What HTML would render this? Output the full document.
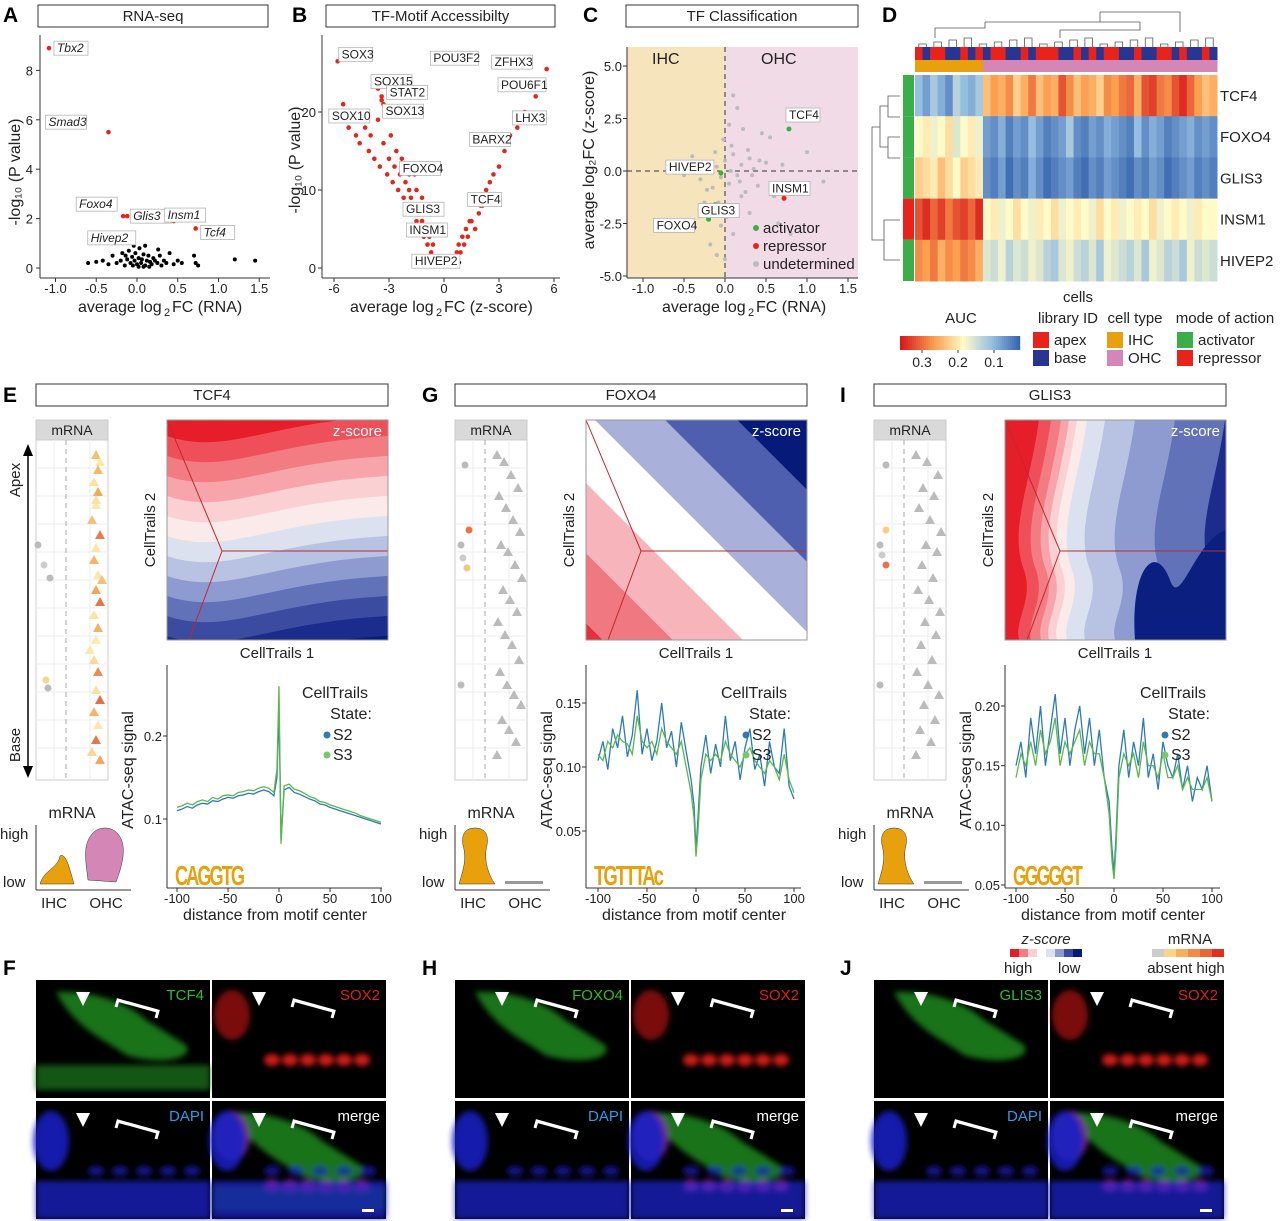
<!DOCTYPE html>
<html><head><meta charset="utf-8">
<style>
html,body{margin:0;padding:0;background:#fff;}
svg{display:block;font-family:"Liberation Sans",sans-serif;}
</style></head>
<body>
<svg id="fig" width="1280" height="1221" viewBox="0 0 1280 1221" xmlns="http://www.w3.org/2000/svg">
<defs>
<filter id="blur"><feGaussianBlur stdDeviation="3"/></filter>
<clipPath id="cE"><rect x="167" y="420" width="221" height="220"/></clipPath>
<clipPath id="cG"><rect x="586" y="420" width="221" height="220"/></clipPath>
<clipPath id="cI"><rect x="1005" y="420" width="221" height="220"/></clipPath>
</defs>
</svg>
<script>
// ---------------- DATA ----------------
const aNamed = ["Tbx2","Smad3","Foxo4","Glis3","Insm1","Tcf4","Hivep2"];
const aNamedX = [-1.08,-0.35,-0.17,-0.12,0.45,0.72,-0.15];
const aNamedY = [8.9,5.5,2.1,2.1,1.9,1.6,1.3];
const aBlackX = [-0.5,-0.42,-0.35,-0.3,-0.25,-0.2,-0.18,-0.15,-0.12,-0.1,-0.08,-0.06,-0.05,-0.03,-0.02,0,0.02,0.03,0.05,0.06,0.08,0.1,0.12,0.14,0.16,0.18,0.2,0.22,0.25,0.28,0.3,0.33,0.36,0.4,0.45,0.5,0.55,0.7,0.72,0.75,1.2,1.45,-0.6,0.08,0.15,-0.04,0.26,0.1,0.02,-0.14];
const aBlackY = [0.25,0.3,0.15,0.5,0.2,0.3,0.6,0.1,0.35,0.7,0.2,0.45,0.1,0.3,0.6,0.15,0.4,0.8,0.2,0.35,0.55,0.1,0.3,0.5,0.25,0.15,0.4,0.3,0.2,0.5,0.1,0.3,0.2,0.6,0.15,0.3,0.2,0.5,0.2,0.1,0.35,0.3,0.2,0.05,0.05,0.9,0.75,0.9,0.05,0.5];
const bNamed = ["SOX3","SOX15","STAT2","SOX10","SOX13","POU3F2","ZFHX3","POU6F1","LHX3","BARX2","FOXO4","GLIS3","TCF4","INSM1","HIVEP2"];
const bNamedX = [-5.8,-3.6,-3.4,-5.9,-3.3,2.8,5.6,5.4,4.0,3.4,-1.6,-1.2,2.0,-0.8,-0.5];
const bNamedY = [26.5,23,21.5,20,21,26,25.5,24,19.5,17,12,6,8,5,1];
const bRedX = [-5.5,-5.2,-5,-4.8,-4.6,-4.5,-4.3,-4.1,-4,-3.8,-3.6,-3.5,-3.3,-3.1,-3,-2.8,-2.7,-2.5,-2.4,-2.2,-2.1,-2,-1.9,-1.8,-1.7,-1.6,-1.5,-1.4,-1.3,-1.2,-1.1,-1,-0.9,-0.8,-0.7,-0.6,-0.5,-0.3,0.3,0.5,0.7,0.8,0.9,1,1.1,1.2,1.3,1.5,1.7,1.9,2.1,2.3,2.5,2.7,3,3.3,3.6,4,4.4,5,-2.6,-2.3,-1.9,-1.5,-1.2,0.6,1.4,2.2,-3.4,-2.9];
const bRedY = [21,18,19,17,16,20,18,15,17,14,19,13,16,12,14,11,13,10,12,9,11,8,10,9,7,8,6,7,5,6,4,5,3,4,2,3,1,0.5,0.5,1,2,3,2,4,3,5,4,6,5,7,8,10,11,12,13,15,17,18,20,22,15,14,12,10,9,1.5,6,9,22,17];
const cGreyX = [-0.1,-0.05,0,0.05,0.1,0.15,-0.15,0.2,-0.2,0.25,0.3,-0.08,0.08,0.12,-0.12,0.02,-0.02,0.18,0.35,0.4,-0.3,0.5,0.6,-0.4,0.45,0.05,-0.05,0.1,0.22,-0.25,0.7,0.9,1.2,0.3,0.15,-0.18,0.28,0.55,0.65,-0.5,1.0,0.8,0.0,0.1,-0.1,0.2,0.33,0.42,-0.22,0.07];
const cGreyY = [0.2,-0.3,0.5,-0.6,0.8,-0.2,-0.8,0.3,0.1,-1.0,0.6,-1.5,1.2,-1.8,0.9,-2.2,1.5,-0.5,0.1,-0.7,-0.4,0.4,-1.2,0.7,1.8,2.2,-2.6,-3,2.0,-1.5,0.3,-1.0,-0.5,-2.0,3.0,-3.5,1.0,1.6,-2.5,-0.2,0.9,-3.0,-4.2,3.6,-4.0,-1.2,-0.2,0.5,-0.9,0.0];
const cGreen = [["TCF4",0.78,2.0],["HIVEP2",-0.05,-0.1],["FOXO4",-0.2,-2.3],["GLIS3",-0.12,-1.6]];
const cRed = [["INSM1",0.72,-1.3]];
const hmRows = ["TCF4","FOXO4","GLIS3","INSM1","HIVEP2"];
const hmTCF4 = [0.14,0.12,0.15,0.13,0.11,0.16,0.14,0.13,0.15,0.24,0.26,0.25,0.27,0.23,0.25,0.28,0.24,0.26,0.25,0.30,0.27,0.24,0.26,0.25,0.23,0.27,0.26,0.28,0.29,0.25,0.30,0.31,0.28,0.27,0.30,0.32,0.29,0.26,0.24,0.25];
const hmFOXO4 = [0.20,0.21,0.19,0.20,0.22,0.18,0.20,0.21,0.19,0.12,0.11,0.13,0.10,0.12,0.11,0.14,0.12,0.10,0.11,0.12,0.15,0.11,0.10,0.12,0.11,0.13,0.12,0.11,0.10,0.14,0.11,0.13,0.12,0.10,0.11,0.12,0.13,0.11,0.12,0.11];
const hmGLIS3 = [0.23,0.22,0.21,0.24,0.22,0.20,0.23,0.22,0.21,0.11,0.10,0.12,0.09,0.11,0.10,0.13,0.11,0.09,0.10,0.11,0.12,0.10,0.09,0.11,0.10,0.12,0.11,0.10,0.09,0.11,0.10,0.12,0.11,0.09,0.10,0.11,0.12,0.10,0.11,0.10];
const hmINSM1 = [0.30,0.32,0.29,0.31,0.28,0.30,0.31,0.29,0.32,0.20,0.21,0.19,0.20,0.22,0.20,0.19,0.21,0.20,0.22,0.19,0.20,0.21,0.20,0.19,0.22,0.20,0.21,0.19,0.20,0.21,0.20,0.22,0.19,0.20,0.21,0.20,0.19,0.21,0.20,0.20];
const hmHIVEP2 = [0.27,0.26,0.28,0.25,0.27,0.26,0.28,0.27,0.25,0.18,0.17,0.19,0.16,0.18,0.17,0.19,0.18,0.16,0.15,0.18,0.19,0.17,0.16,0.18,0.15,0.19,0.18,0.17,0.16,0.18,0.15,0.19,0.18,0.16,0.17,0.15,0.19,0.17,0.18,0.17];
const hmLib = "abaabbababaabbabaaabbababaabbabbaababbab".split("");
const hmType = "iiiiiiiiiooooooooooooooooooooooooooooooo".split("");
const hmMode = ["act","act","act","rep","act"];
const atacDist = [-100,-95,-90,-85,-80,-75,-70,-65,-60,-55,-50,-45,-40,-35,-30,-25,-20,-15,-10,-5,-2,0,2,5,10,15,20,25,30,35,40,45,50,55,60,65,70,75,80,85,90,95,100];
const tcf4S2 = [0.110,0.112,0.115,0.113,0.117,0.119,0.118,0.122,0.121,0.124,0.126,0.125,0.128,0.129,0.131,0.130,0.133,0.135,0.133,0.128,0.15,0.23,0.075,0.135,0.138,0.132,0.130,0.127,0.124,0.122,0.118,0.117,0.114,0.112,0.110,0.108,0.106,0.104,0.102,0.100,0.098,0.096,0.094];
const tcf4S3 = [0.114,0.116,0.119,0.117,0.121,0.123,0.121,0.126,0.124,0.128,0.129,0.128,0.132,0.133,0.135,0.134,0.137,0.139,0.137,0.132,0.16,0.26,0.07,0.14,0.142,0.136,0.134,0.131,0.127,0.125,0.121,0.120,0.117,0.115,0.113,0.111,0.109,0.107,0.104,0.102,0.100,0.098,0.096];
const foxoS2 = [0.105,0.12,0.098,0.13,0.115,0.14,0.108,0.125,0.16,0.11,0.13,0.105,0.12,0.15,0.115,0.128,0.10,0.135,0.112,0.09,0.07,0.035,0.06,0.10,0.125,0.095,0.118,0.10,0.14,0.105,0.12,0.09,0.115,0.13,0.098,0.11,0.085,0.12,0.10,0.095,0.13,0.085,0.075];
const foxoS3 = [0.11,0.105,0.12,0.115,0.125,0.12,0.118,0.11,0.14,0.12,0.115,0.12,0.11,0.13,0.12,0.115,0.11,0.12,0.1,0.08,0.06,0.03,0.05,0.09,0.11,0.105,0.11,0.105,0.12,0.11,0.105,0.1,0.11,0.115,0.105,0.1,0.095,0.105,0.1,0.09,0.11,0.09,0.08];
const glisS2 = [0.15,0.17,0.14,0.19,0.16,0.20,0.15,0.18,0.21,0.16,0.19,0.15,0.18,0.20,0.16,0.19,0.15,0.18,0.14,0.12,0.08,0.06,0.09,0.15,0.18,0.14,0.17,0.15,0.19,0.14,0.16,0.13,0.17,0.15,0.14,0.16,0.13,0.15,0.12,0.14,0.13,0.15,0.12];
const glisS3 = [0.14,0.16,0.15,0.17,0.15,0.18,0.16,0.17,0.19,0.15,0.17,0.16,0.17,0.18,0.15,0.17,0.16,0.16,0.14,0.11,0.07,0.055,0.08,0.14,0.16,0.15,0.16,0.14,0.17,0.15,0.15,0.14,0.16,0.14,0.14,0.15,0.13,0.14,0.13,0.13,0.13,0.14,0.12];

// ---------------- HELPERS ----------------
const svg = document.getElementById('fig');
const NS = "http://www.w3.org/2000/svg";
function mk(tag, attrs, parent){const e=document.createElementNS(NS,tag);for(const k in attrs)e.setAttribute(k,attrs[k]);(parent||svg).appendChild(e);return e;}
function txt(s,x,y,o,parent){o=o||{};const e=mk('text',Object.assign({x:x,y:y,'font-size':o.fs||13,fill:o.fill||'#222','text-anchor':o.a||'start'},o.attr||{}),parent);e.textContent=s;return e;}
function lin(d0,d1,p0,p1){return v=>p0+(v-d0)/(d1-d0)*(p1-p0);}

[["A",3,22],["B",292,22],["C",583,22],["D",882,22],["E",3,402],["G",422,402],["I",840,402],["F",3,975],["H",422,975],["J",840,975]].forEach(p=>{
  const t=txt(p[0],p[1],p[2],{fs:21,fill:'#000',attr:{'font-weight':'bold'}});
  
  
});
function titleBox(s,x,y,w){
  const g=mk('g',{});
  
  
  mk('rect',{x:x,y:y,width:w,height:22,fill:'#fff',stroke:'#333','stroke-width':1},g);
  txt(s,x+w/2,y+16,{fs:15,a:'middle'},g);
}
titleBox("RNA-seq",38,5,230);titleBox("TF-Motif Accessibilty",326,5,229);titleBox("TF Classification",626,5,232);
titleBox("TCF4",36,384,352);titleBox("FOXO4",455,384,352);titleBox("GLIS3",874,384,352);

function labelBox(s,x,y,g,ital){
  const w=s.length*7+6;
  mk('rect',{x:x-3,y:y-11,width:w,height:14,fill:'#fff',stroke:'#aaa','stroke-width':0.7},g);
  txt(s,x,y,{fs:12,attr:ital?{'font-style':'italic'}:{}},g);
}

// ---------------- PANEL A ----------------
(function(){
  const g=mk('g',{});
  const X=lin(0,1,137,218.5),Y=lin(0,1,268,243.3);
  mk('line',{x1:40,y1:35,x2:40,y2:278,stroke:'#333'},g);
  mk('line',{x1:40,y1:278,x2:270,y2:278,stroke:'#333'},g);
  [-1,-0.5,0,0.5,1,1.5].forEach(v=>{mk('line',{x1:X(v),y1:278,x2:X(v),y2:282,stroke:'#333'},g);txt(v.toFixed(1),X(v),293,{a:'middle'},g);});
  [0,2,4,6,8].forEach(v=>{mk('line',{x1:36,y1:Y(v),x2:40,y2:Y(v),stroke:'#333'},g);txt(String(v),33,Y(v)+5,{a:'end'},g);});
  txt("average log",78,312,{fs:16},g);txt("2",164,316,{fs:11},g);txt("FC (RNA)",172,312,{fs:16},g);
  txt("-log\u2081\u2080 (P value)",0,0,{fs:16,a:'middle',attr:{transform:'translate(20,172) rotate(-90)'}},g);
  aBlackX.forEach((v,i)=>{const c=mk('circle',{cx:X(v),cy:Y(aBlackY[i]),r:2,fill:'#000'},g);});
  const offs=[[8,4],[-60,-6],[-44,-8],[6,4],[-6,-2],[8,8],[-34,6]];
  aNamed.forEach((n,i)=>{
    const c=mk('circle',{cx:X(aNamedX[i]),cy:Y(aNamedY[i]),r:2.3,fill:'#e8231c'},g);
    
    labelBox(n,X(aNamedX[i])+offs[i][0],Y(aNamedY[i])+offs[i][1],g,true);
  });
})();

// ---------------- PANEL B ----------------
(function(){
  const g=mk('g',{});
  const X=lin(0,3,444,499),Y=lin(0,10,268,190);
  mk('line',{x1:322,y1:35,x2:322,y2:278,stroke:'#333'},g);
  mk('line',{x1:322,y1:278,x2:560,y2:278,stroke:'#333'},g);
  [-6,-3,0,3,6].forEach(v=>{mk('line',{x1:X(v),y1:278,x2:X(v),y2:282,stroke:'#333'},g);txt(String(v),X(v),293,{a:'middle'},g);});
  [0,10,20].forEach(v=>{mk('line',{x1:318,y1:Y(v),x2:322,y2:Y(v),stroke:'#333'},g);txt(String(v),316,Y(v)+5,{a:'end'},g);});
  txt("average log",350,312,{fs:16},g);txt("2",436,316,{fs:11},g);txt("FC (z-score)",444,312,{fs:16},g);
  txt("-log\u2081\u2080 (P value)",0,0,{fs:16,a:'middle',attr:{transform:'translate(300,160) rotate(-90)'}},g);
  for(let k=0;k<30;k++){mk('circle',{cx:X(-0.9+k*0.06),cy:Y(0.3+(k%3)*0.2),r:1.8,fill:'#000'},g);}
  bRedX.forEach((v,i)=>{const c=mk('circle',{cx:X(v),cy:Y(bRedY[i]),r:2.3,fill:'#e8231c'},g);});
  const offs=[[4,-3],[-4,-3],[8,-4],[-4,8],[2,11],[-62,-3],[-52,-3],[-42,8],[-2,6],[-34,8],[-12,-2],[-16,-8],[-10,-2],[-20,5],[-20,5]];
  bNamed.forEach((n,i)=>{
    const c=mk('circle',{cx:X(bNamedX[i]),cy:Y(bNamedY[i]),r:2.3,fill:'#e8231c'},g);
    
    labelBox(n,X(bNamedX[i])+offs[i][0],Y(bNamedY[i])+offs[i][1],g,false);
  });
})();

// ---------------- PANEL C ----------------
(function(){
  const g=mk('g',{});
  const X=lin(0,0.5,725,766),Y=lin(0,2.5,171,118.5);
  mk('rect',{x:627,y:47,width:98,height:231,fill:'#f6e4bd'},g);
  mk('rect',{x:725,y:47,width:133,height:231,fill:'#f1dbe7'},g);
  txt("IHC",652,64,{fs:16},g);txt("OHC",761,64,{fs:16},g);
  mk('line',{x1:X(0),y1:47,x2:X(0),y2:278,stroke:'#333','stroke-dasharray':'5,4'},g);
  mk('line',{x1:627,y1:Y(0),x2:858,y2:Y(0),stroke:'#333','stroke-dasharray':'5,4'},g);
  mk('line',{x1:627,y1:47,x2:627,y2:278,stroke:'#333'},g);
  mk('line',{x1:627,y1:278,x2:858,y2:278,stroke:'#333'},g);
  [-1,-0.5,0,0.5,1,1.5].forEach(v=>{mk('line',{x1:X(v),y1:278,x2:X(v),y2:282,stroke:'#333'},g);txt(v.toFixed(1),X(v),293,{a:'middle'},g);});
  [5,2.5,0,-2.5,-5].forEach(v=>{mk('line',{x1:623,y1:Y(v),x2:627,y2:Y(v),stroke:'#333'},g);txt(v.toFixed(1),622,Y(v)+5,{a:'end'},g);});
  txt("average log",662,312,{fs:16},g);txt("2",748,316,{fs:11},g);txt("FC (RNA)",756,312,{fs:16},g);
  txt("average log\u2082FC (z-score)",0,0,{fs:16,a:'middle',attr:{transform:'translate(594,160) rotate(-90)'}},g);
  cGreyX.forEach((v,i)=>{const c=mk('circle',{cx:X(v),cy:Y(cGreyY[i]),r:2,fill:'#bbb'},g);});
  const go=[[0,-10],[-52,-2],[-52,10],[-14,10]];
  cGreen.forEach((d,i)=>{const c=mk('circle',{cx:X(d[1]),cy:Y(d[2]),r:2.5,fill:'#3cae49'},g);labelBox(d[0],X(d[1])+go[i][0],Y(d[2])+go[i][1],g,false);});
  cRed.forEach(d=>{const c=mk('circle',{cx:X(d[1]),cy:Y(d[2]),r:2.5,fill:'#e8231c'},g);labelBox(d[0],X(d[1])-12,Y(d[2])-6,g,false);});
  [["activator","#3cae49",233],["repressor","#e8231c",251],["undetermined","#bbb",269]].forEach(l=>{
    const lg=mk('g',{},g);
    mk('circle',{cx:756,cy:l[2]-5,r:3,fill:l[1]},lg);txt(l[0],763,l[2],{fs:15},lg);
  });
})();

// ---------------- PANEL D ----------------
(function(){
  const g=mk('g',{});
  const stops=[[0.08,[49,95,170]],[0.14,[150,190,225]],[0.20,[255,251,200]],[0.26,[250,160,80]],[0.33,[215,25,28]]];
  function col(v){if(v<=stops[0][0])return 'rgb('+stops[0][1]+')';for(let i=1;i<stops.length;i++){if(v<=stops[i][0]){const t=(v-stops[i-1][0])/(stops[i][0]-stops[i-1][0]);const a=stops[i-1][1],b=stops[i][1];return 'rgb('+a.map((c,j)=>Math.round(c+(b[j]-c)*t)).join(',')+')';}}return 'rgb('+stops[stops.length-1][1]+')';}
  const rows=[hmTCF4,hmFOXO4,hmGLIS3,hmINSM1,hmHIVEP2];
  const x0=915,w=302,y0=75,rh=41.2,cw=w/40;
  rows.forEach((r,ri)=>{r.forEach((v,ci)=>{const c=mk('rect',{x:x0+ci*cw,y:y0+ri*rh,width:cw+0.5,height:rh+0.5,fill:col(v)},g);});
    txt(hmRows[ri],1220,y0+ri*rh+26,{fs:15},g);
    const m=mk('rect',{x:903,y:y0+ri*rh,width:11,height:rh,fill:hmMode[ri]==='act'?'#3cae49':'#e8231c'},g);
  });
  hmLib.forEach((l,ci)=>{const c=mk('rect',{x:x0+ci*cw,y:47,width:cw+0.5,height:13,fill:l==='a'?'#e8231c':'#283593'},g);});
  hmType.forEach((l,ci)=>{const c=mk('rect',{x:x0+ci*cw,y:60,width:cw+0.5,height:12,fill:l==='i'?'#e8a10c':'#d487b7'},g);});
  let p="";for(let i=0;i<20;i++){const xa=x0+i*2*cw+cw/2,xb=xa+cw,h=44-(i%4)*2;p+=`M${xa},47V${h}H${xb}V47 `;}
  p+="M935,38V28H985V22 M1060,38V30H1140V22 M985,22H1100V12 M1140,22H1100 M1100,12H1180V32";
  mk('path',{d:p,fill:'none',stroke:'#555','stroke-width':0.8},g);
  mk('path',{d:"M900,96H888V117H900 M900,158H888V137H900 M888,106H880V147H888 M900,220H884V260H900 M880,127H872V240H884",fill:'none',stroke:'#555','stroke-width':0.8},g);
  const lg=mk('g',{},g);
  txt("AUC",961,323,{fs:15,a:'middle'},lg);
  for(let i=0;i<60;i++){const v=0.33-i*(0.25/60);mk('rect',{x:900+i*2,y:336,width:2.2,height:14,fill:col(v)},lg);}
  [["0.3",922],["0.2",958],["0.1",994]].forEach(t=>{mk('line',{x1:t[1],y1:350,x2:t[1],y2:353,stroke:'#333'},lg);txt(t[0],t[1],367,{fs:14,a:'middle'},lg);});
  txt("cells",1078,302,{fs:15,a:'middle'},lg);
  txt("library ID",1068,323,{fs:15,a:'middle'},lg);txt("cell type",1135,323,{fs:15,a:'middle'},lg);txt("mode of action",1225,323,{fs:15,a:'middle'},lg);
  [[1033,332,'#e8231c','apex'],[1033,350,'#283593','base'],[1107,332,'#e8a10c','IHC'],[1107,350,'#d487b7','OHC'],[1177,332,'#3cae49','activator'],[1177,350,'#e8231c','repressor']].forEach(l=>{mk('rect',{x:l[0],y:l[1],width:16,height:16,fill:l[2]},lg);txt(l[3],l[0]+21,l[1]+13,{fs:15},lg);});
})();

// ---------------- E/G/I panels ----------------
const strips={
 E:{x:36,tri:[[60,455,'#f4c06a'],[64,462,'#fce7a8'],[62,470,'#f7b868'],[58,482,'#fbe3a0'],[62,492,'#f4a858'],[60,505,'#fce9b0'],[56,520,'#f7c080'],[64,535,'#e87e4e'],[60,548,'#fde6a5'],[58,560,'#f6b36a'],[62,575,'#fce8ad'],[60,590,'#f4a25c'],[64,602,'#e8744a'],[58,615,'#fce4a3'],[62,628,'#f5b062'],[60,640,'#fde9b1'],[58,660,'#fbd898'],[62,672,'#ec8b53'],[60,690,'#fce1a0'],[64,700,'#e56e46'],[58,712,'#f6b46a'],[62,725,'#fce8ae'],[60,740,'#e8764b'],[56,752,'#fbd795'],[64,760,'#f4a65e'],[60,500,'#fbe1a0'],[66,580,'#f7bf78'],[54,650,'#fce8ad']],dots:[[2,545,'#bbb'],[8,565,'#ccc'],[14,578,'#bbb'],[10,680,'#f7d58a'],[12,688,'#bbb']]},
 G:{x:455,tri:[],dots:[[10,465,'#bbb'],[14,530,'#e8734a'],[6,545,'#bbb'],[12,568,'#f3c87a'],[8,558,'#ccc'],[6,685,'#bbb']]},
 I:{x:874,tri:[],dots:[[12,465,'#bbb'],[12,530,'#f7cf88'],[6,545,'#bbb'],[12,565,'#e8734a'],[8,555,'#ccc'],[6,685,'#bbb']]}
};
const greyTriY=[455,462,475,488,496,508,520,532,545,552,565,578,590,600,612,622,635,645,660,672,685,695,705,720,730,742,755];
strips.G.tri=greyTriY.map((y,i)=>[42+(i*7)%26,y,'#bbb']);
strips.I.tri=greyTriY.map((y,i)=>[42+(i*11)%26,y,'#bbb']);

function buildStrip(k,info){
  const g=mk('g',{});
  const x=info.x;
  mk('rect',{x:x,y:420,width:72,height:360,fill:'#fff',stroke:'#ccc'},g);
  mk('rect',{x:x,y:420,width:72,height:20,fill:'#d9d9d9',stroke:'#ccc'},g);
  txt("mRNA",x+36,435,{fs:14,a:'middle'},g);
  for(let i=1;i<12;i++)mk('line',{x1:x,y1:440+i*28,x2:x+72,y2:440+i*28,stroke:'#eee'},g);
  [x+18,x+54].forEach(xx=>mk('line',{x1:xx,y1:440,x2:xx,y2:780,stroke:'#eee'},g));
  mk('line',{x1:x+30,y1:440,x2:x+30,y2:780,stroke:'#aaa','stroke-dasharray':'5,4'},g);
  info.tri.forEach(t=>{const p=mk('path',{d:`M${x+t[0]},${t[1]-5}l5,9h-10z`,fill:t[2]},g);});
  info.dots.forEach(t=>{const c=mk('circle',{cx:x+t[0],cy:t[1],r:3.5,fill:t[2]},g);});
  txt("mRNA",x+36,818,{fs:16,a:'middle'},g);
  txt("high",x-36,839,{fs:15},g);txt("low",x-33,887,{fs:15},g);
  mk('line',{x1:x,y1:825,x2:x,y2:890,stroke:'#333'},g);mk('line',{x1:x,y1:890,x2:x+95,y2:890,stroke:'#333'},g);
  txt("IHC",x+18,908,{fs:15,a:'middle'},g);txt("OHC",x+70,908,{fs:15,a:'middle'},g);
  if(k==='E'){
    mk('path',{d:`M${x+4},884 C${x+8},870 ${x+22},868 ${x+24},856 C${x+30},852 ${x+34},870 ${x+38},884 Z`,fill:'#e8a10c',stroke:'#333','stroke-width':0.5},g);
    mk('path',{d:`M${x+52},880 C${x+50},862 ${x+46},846 ${x+56},834 C${x+62},826 ${x+76},826 ${x+82},834 C${x+92},846 ${x+86},866 ${x+80},882 Z`,fill:'#d487b7',stroke:'#333','stroke-width':0.5},g);
  }else{
    mk('path',{d:`M${x+4},884 C${x+8},870 ${x+12},860 ${x+8},845 C${x+6},835 ${x+10},828 ${x+20},828 C${x+30},828 ${x+34},835 ${x+32},845 C${x+28},860 ${x+34},876 ${x+40},884 Z`,fill:'#e8a10c',stroke:'#333','stroke-width':0.5},g);
    mk('rect',{x:x+50,y:881,width:38,height:3,fill:'#999'},g);
  }
}
buildStrip('E',strips.E);buildStrip('G',strips.G);buildStrip('I',strips.I);
(function(){const g=mk('g',{});
  mk('line',{x1:28,y1:450,x2:28,y2:772,stroke:'#000','stroke-width':1.5},g);
  mk('path',{d:'M23,456l5,-12l5,12z M23,766l5,12l5,-12z',fill:'#000'},g);
  txt("Apex",0,0,{fs:15,a:'middle',attr:{transform:'translate(20,480) rotate(-90)'}},g);
  txt("Base",0,0,{fs:15,a:'middle',attr:{transform:'translate(20,745) rotate(-90)'}},g);})();

function contour(k,x,clip,type){
  const g=mk('g',{'clip-path':'url(#'+clip+')'});
  const y=420,W=221,H=220;
  const reds=['#e61e2a','#ef4f58','#f37b82','#f7a5aa','#fad0d2','#fbeaea'];
  const blues=['#dce1f0','#b8c2e2','#8d9bd0','#6272b8','#3a4ba0','#1b2c8c','#061a7a'];
  const all=reds.concat(blues);
  if(type==='h'){
    mk('rect',{x:x,y:y,width:W,height:H,fill:'#e61e2a'},g);
    all.forEach((c,i)=>{const t=i*20-4,yy=y+t;mk('path',{d:`M${x},${yy} C${x+60},${yy+20} ${x+100},${yy-14} ${x+W},${yy-20} V${y+H+20} H${x} Z`,fill:c},g);});
  }else if(type==='d'){
    const bands=[[-400,-203,'#e8303a'],[-203,-133,'#f07880'],[-133,-63,'#f7b4bb'],[-63,9,'#ffffff'],[9,79,'#a9b0da'],[79,151,'#4f5fb0'],[151,400,'#061a7a']];
    bands.forEach(b=>{mk('path',{d:`M${x+b[0]-300},${y-300} L${x+b[0]+500},${y+500} L${x+b[1]+500},${y+500} L${x+b[1]-300},${y-300} Z`,fill:b[2]},g);});
  }else{
    mk('rect',{x:x,y:y,width:W,height:H,fill:'#1b2c8c'},g);
    const cs=['#6272b8','#8d9bd0','#b8c2e2','#dce1f0','#fbeaea','#fad0d2','#f7a5aa','#f37b82','#ef4f58','#e61e2a'];
    const xs=[200,150,110,80,62,52,44,36,26,14];
    cs.forEach((c,i)=>{const e=xs[i];mk('path',{d:`M${x},${y} H${x+e+20} C${x+e+10},${y+70} ${x+e-10},${y+110} ${x+e+5},${y+150} C${x+e+15},${y+180} ${x+e-5},${y+200} ${x+e},${y+H} H${x}Z`,fill:c},g);});
    mk('path',{d:`M${x+130},${y+H} C${x+125},${y+150} ${x+150},${y+120} ${x+165},${y+160} C${x+175},${y+190} ${x+190},${y+120} ${x+W},${y+110} V${y+H}Z`,fill:'#0a1f80'},g);
  }
  mk('path',{d:`M${x},${y} L${x+55},${y+131} L${x+W},${y+131} M${x+55},${y+131} L${x+22},${y+H}`,fill:'none',stroke:'#c0282d','stroke-width':1},g);
  txt("z-score",x+W-6,y+16,{fs:15,fill:'#fff',a:'end'},g);
  mk('rect',{x:x,y:y,width:W,height:H,fill:'none',stroke:'#999'});
  txt("CellTrails 1",x+110,658,{fs:15,a:'middle'});
  txt("CellTrails 2",0,0,{fs:15,a:'middle',attr:{transform:`translate(${x-12},530) rotate(-90)`}});
}
contour('tcf4',167,'cE','h');contour('foxo4',586,'cG','d');contour('glis3',1005,'cI','v');

function atac(k,o){
  const g=mk('g',{});
  const X=lin(-100,100,o.x0,o.x1),Y=lin(o.ya,o.yb,o.pa,o.pb);
  mk('line',{x1:o.left,y1:665,x2:o.left,y2:888,stroke:'#333'},g);
  mk('line',{x1:o.left,y1:888,x2:o.left+215,y2:888,stroke:'#333'},g);
  [-100,-50,0,50,100].forEach(v=>{mk('line',{x1:X(v),y1:888,x2:X(v),y2:892,stroke:'#333'},g);txt(String(v),X(v),903,{a:'middle'},g);});
  o.ticks.forEach((v,i)=>{mk('line',{x1:o.left-4,y1:Y(v),x2:o.left,y2:Y(v),stroke:'#333'},g);txt(o.tl[i],o.left-5,Y(v)+5,{a:'end'},g);});
  txt("distance from motif center",o.left+108,920,{fs:16,a:'middle'},g);
  txt("ATAC-seq signal",0,0,{fs:16,a:'middle',attr:{transform:`translate(${o.left-34},770) rotate(-90)`}},g);
  txt(o.logo,o.left+8,885,{fs:28,fill:'#e8a10c',attr:{'font-weight':'bold','letter-spacing':'-3','textLength':'68','lengthAdjust':'spacingAndGlyphs'}},g);
  const mkLine=(arr,c,nm)=>{const p=mk('polyline',{points:atacDist.map((d,i)=>X(d)+','+Y(arr[i])).join(' '),fill:'none',stroke:c,'stroke-width':1.3},g);};
  mkLine(o.s2,'#2c7bb6','line-s2');mkLine(o.s3,'#5ab84a','line-s3');
  const lx=o.left+168;
  txt("CellTrails",lx,698,{fs:16,a:'middle'},g);txt("State:",lx+16,719,{fs:16,a:'middle'},g);
  const l1=mk('g',{},g);
  mk('circle',{cx:lx-8,cy:735,r:3.5,fill:'#2c7bb6'},l1);txt("S2",lx-2,740,{fs:16},l1);
  const l2=mk('g',{},g);
  mk('circle',{cx:lx-8,cy:755,r:3.5,fill:'#7cc46e'},l2);txt("S3",lx-2,760,{fs:16},l2);
}
atac('tcf4',{left:167,x0:177,x1:381,ya:0.1,yb:0.2,pa:819,pb:736,ticks:[0.1,0.2],tl:["0.1","0.2"],s2:tcf4S2,s3:tcf4S3,logo:"CAGGTG"});
atac('foxo4',{left:586,x0:598,x1:794,ya:0.05,yb:0.15,pa:831,pb:703,ticks:[0.05,0.1,0.15],tl:["0.05","0.10","0.15"],s2:foxoS2,s3:foxoS3,logo:"TGTTTAc"});
atac('glis3',{left:1005,x0:1016,x1:1212,ya:0.05,yb:0.2,pa:885,pb:706,ticks:[0.05,0.1,0.15,0.2],tl:["0.05","0.10","0.15","0.20"],s2:glisS2,s3:glisS3,logo:"GGGGGT"});

(function(){const g=mk('g',{});
  txt("z-score",1046,944,{fs:15,a:'middle',attr:{'font-style':'italic'}},g);
  const zc=['#e61e2a','#f37b82','#fad0d2','#fff','#dce1f0','#8d9bd0','#3a4ba0','#061a7a'];
  zc.forEach((c,i)=>mk('rect',{x:1010+i*9,y:949,width:9,height:8,fill:c},g));
  txt("high",1004,973,{fs:15},g);txt("low",1058,973,{fs:15},g);
  txt("mRNA",1190,944,{fs:15,a:'middle'},g);
  const mc=['#ccc','#f7d58a','#f4b060','#ef8a48','#e8653a','#e03020'];
  mc.forEach((c,i)=>mk('rect',{x:1152+i*12,y:949,width:12,height:8,fill:c},g));
  txt("absent high",1186,973,{fs:15,a:'middle'},g);})();

function micro(k,x,gene,big){
  const tiles=[[x,980,'g'],[x+176,980,'r'],[x,1101,'b'],[x+176,1101,'m']];
  tiles.forEach(t=>{
    const g=mk('g',{});
    mk('rect',{x:t[0],y:t[1],width:174,height:118,fill:'#000'},g);
    const bx=t[0],by=t[1];
    const fb=mk('g',{filter:'url(#blur)'},g);
    if(t[2]==='g'||t[2]==='m'){
      mk('path',{d:`M${bx+20},${by+12} C${bx+60},${by+10} ${bx+95},${by+25} ${bx+110},${by+40} L${bx+150},${by+65} C${bx+160},${by+80} ${bx+120},${by+85} ${bx+90},${by+75} C${bx+70},${by+60} ${bx+40},${by+50} ${bx+20},${by+12}Z`,fill:'#229a22',opacity:0.75},fb);
      if(big){mk('rect',{x:bx,y:by+85,width:174,height:25,fill:'#1a6a18',opacity:0.8},fb);}
    }
    if(t[2]==='r'||t[2]==='m'){for(let i=0;i<6;i++)mk('ellipse',{cx:bx+60+i*18,cy:by+(t[2]==='m'?85:80),rx:8,ry:6,fill:t[2]==='m'?'#d8207a':'#d01a14'},fb);
      mk('ellipse',{cx:bx+20,cy:by+35,rx:18,ry:25,fill:t[2]==='m'?'#7a2a9a':'#901010',opacity:0.85},fb);}
    if(t[2]==='b'||t[2]==='m'){
      mk('rect',{x:bx,y:by+80,width:174,height:38,fill:'#1820c8',opacity:0.75},fb);
      mk('ellipse',{cx:bx+15,cy:by+40,rx:18,ry:30,fill:'#1820c8',opacity:0.85},fb);
      for(let i=0;i<5;i++)mk('ellipse',{cx:bx+60+i*24,cy:by+70,rx:8,ry:5,fill:'#1820c8',opacity:0.7},fb);}
    mk('path',{d:`M${bx+40},${by+12}l7,14l7,-14z`,fill:'#fff'},g);
    mk('path',{d:`M${bx+80},${by+27}l2,-7l40,11l-2,7 M${bx+81},${by+20}l40,11`,fill:'none',stroke:'#fff','stroke-width':3},g);
    const lab={g:gene,r:'SOX2',b:'DAPI',m:'merge'}[t[2]];
    const lc={g:'#2fbf2a',r:'#e0201a',b:'#2a9ee8',m:'#fff'}[t[2]];
    txt(lab,bx+168,by+20,{fs:15,fill:lc,a:'end'},g);
    if(t[2]==='m')mk('rect',{x:bx+150,y:by+108,width:12,height:3,fill:'#fff'},g);
  });
}
micro('tcf4',36,'TCF4',true);micro('foxo4',455,'FOXO4',false);micro('glis3',874,'GLIS3',false);
</script>
</body></html>
